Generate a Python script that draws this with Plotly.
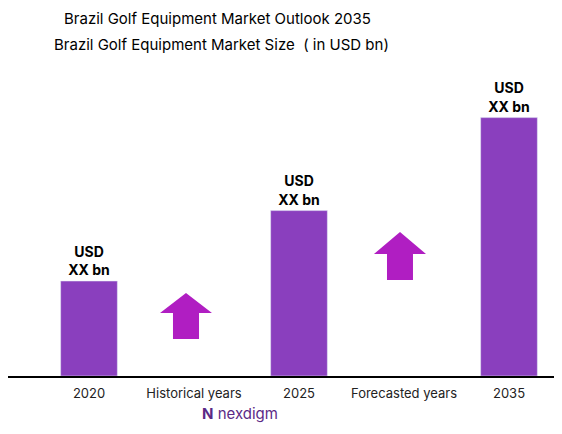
import plotly.graph_objects as go

categories = ["2020", "Historical years", "2025", "Forecasted years", "2035"]
bar_years = ["2020", "2025", "2035"]
bar_values = [0.97, 1.69, 2.64]
bar_labels = ["USD<br>XX bn", "USD<br>XX bn", "USD<br>XX bn"]
title1 = "Brazil Golf Equipment Market Outlook 2035"
title2 = "Brazil Golf Equipment Market Size  ( in USD bn)"

OFF = 8
W, H, B = 562 - OFF, 434 - OFF, 58
PH = H - B

def px(x, y):
    return (x - OFF) / W, (PH - (y - OFF)) / PH

fig = go.Figure(go.Bar(
    x=bar_years, y=bar_values, width=0.54, marker_color="#8A3FBE",
    text=bar_labels, textposition="outside", cliponaxis=False,
    textfont=dict(family="Inter", size=14, color="black", weight="bold"),
))

def arrow(cx, tip, head_y, bottom, hw=26, sw=13):
    pts = [(cx, tip), (cx + hw, head_y), (cx + sw, head_y), (cx + sw, bottom),
           (cx - sw, bottom), (cx - sw, head_y), (cx - hw, head_y)]
    p = [px(a, b) for a, b in pts]
    return "M " + " L ".join(f"{a:.4f},{b:.4f}" for a, b in p) + " Z"

shapes = [
    dict(type="path", xref="paper", yref="paper", path=arrow(186, 293, 313, 339),
         fillcolor="#B01EC2", line=dict(width=0)),
    dict(type="path", xref="paper", yref="paper", path=arrow(400, 232, 254, 280),
         fillcolor="#B01EC2", line=dict(width=0)),
]

x0 = -(89 - OFF) / 105
x1 = x0 + W / 105

fig.update_layout(
    width=W, height=H, margin=dict(l=0, r=0, t=0, b=B),
    plot_bgcolor="white", paper_bgcolor="white", showlegend=False,
    xaxis=dict(type="category", categoryorder="array", categoryarray=categories,
               range=[x0, x1], showline=True, linecolor="black", linewidth=2,
               ticks="", ticklabelstandoff=4,
               tickfont=dict(family="Inter", size=13, color="#222")),
    yaxis=dict(range=[0, 3.76], visible=False),
    shapes=shapes,
    annotations=[
        dict(text=title1, xref="paper", yref="paper", x=px(62, 0)[0], y=px(0, 18)[1],
             xanchor="left", yanchor="middle", showarrow=False,
             font=dict(family="Inter", size=15, color="black")),
        dict(text=title2, xref="paper", yref="paper", x=px(52, 0)[0], y=px(0, 44)[1],
             xanchor="left", yanchor="middle", showarrow=False,
             font=dict(family="Inter", size=15, color="black")),
        dict(text="<b>N</b> nexdigm", xref="paper", yref="paper", x=px(240, 0)[0], y=px(0, 413)[1],
             xanchor="center", yanchor="middle", showarrow=False,
             font=dict(family="Inter", size=15, color="#5B2A86")),
    ],
)
fig.write_html("out.html")
